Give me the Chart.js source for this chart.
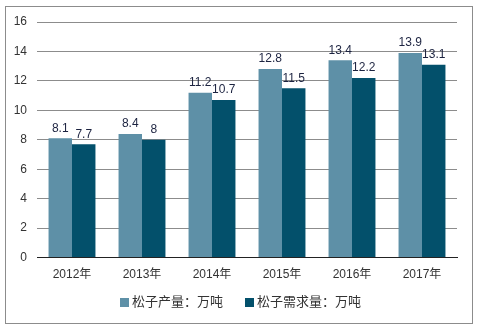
<!DOCTYPE html>
<html>
<head>
<meta charset="utf-8">
<script src="https://cdn.jsdelivr.net/npm/chart.js@4"></script>
<style>
  body { margin: 0; background: #fff; }
  #wrap { position: relative; width: 480px; height: 329px; font-family: 'Liberation Sans', Arial, 'Noto Sans CJK SC', sans-serif; }
  #frame { position: absolute; left: 5px; top: 6px; width: 466px; height: 316px; border: 1px solid #8c8c8c; }
  canvas { position: absolute; left: 0; top: 0; }
  #legend { position: absolute; left: 0; width: 480px; top: 293px; height: 18px; font-size: 13px; color: #333; line-height: 18px; }
  .item { position: absolute; top: 0; white-space: nowrap; }
  .box { display: inline-block; width: 9px; height: 9px; margin-right: 3px; vertical-align: -1px; }
</style>
</head>
<body>
<div id="wrap">
  <div id="frame"></div>
  <canvas id="chart" width="480" height="329"></canvas>
  <div id="legend"></div>
</div>
<script>
const years = ['2012年', '2013年', '2014年', '2015年', '2016年', '2017年'];
const output = [8.1, 8.4, 11.2, 12.8, 13.4, 13.9];
const demand = [7.7, 8, 10.7, 11.5, 12.2, 13.1];
const seriesNames = ['松子产量：万吨', '松子需求量：万吨'];
const colors = ['#5e90a7', '#03506b'];

const font = "'Liberation Sans', Arial, 'Noto Sans CJK SC', sans-serif";

// value labels above each bar
const barLabels = {
    id: 'barLabels',
    afterDatasetsDraw(chart){
        const ctx = chart.ctx;
        ctx.save();
        ctx.font = '12px ' + font;
        ctx.fillStyle = '#1c2340';
        ctx.textAlign = 'center';
        ctx.textBaseline = 'bottom';
        chart.data.datasets.forEach((ds, i) => {
            chart.getDatasetMeta(i).data.forEach((bar, j) => {
                ctx.fillText(String(ds.data[j]), bar.x, bar.y - 4);
            });
        });
        ctx.restore();
    }
};

const chart = new Chart(document.getElementById('chart').getContext('2d'), {
    type: 'bar',
    data: {
        labels: years,
        datasets: [
            { label: seriesNames[0], data: output, backgroundColor: colors[0] },
            { label: seriesNames[1], data: demand, backgroundColor: colors[1] }
        ]
    },
    options: {
        responsive: false,
        animation: false,
        layout: { padding: { left: 0, right: 23, top: 22, bottom: 45 } },
        datasets: { bar: { categoryPercentage: 0.67, barPercentage: 1 } },
        plugins: {
            legend: { display: false },
            tooltip: { enabled: false }
        },
        scales: {
            x: {
                grid: { display: false },
                border: { color: '#222', width: 1 },
                ticks: { color: '#333', font: { size: 12, family: font }, padding: 2 }
            },
            y: {
                min: 0, max: 16,
                ticks: { stepSize: 2, color: '#333', font: { size: 12, family: font }, padding: 10 },
                grid: { color: '#8c8c8c', drawTicks: false },
                border: { display: false },
                afterFit(scale){ scale.width = 37; }
            }
        }
    },
    plugins: [barLabels]
});

// legend below the axis
const legendPos = [120, 245];
let html = '';
chart.data.datasets.forEach((ds, i) => {
    html += `<span class="item" style="left:${legendPos[i]}px"><span class="box" style="background:${ds.backgroundColor}"></span>${ds.label}</span>`;
});
document.getElementById('legend').innerHTML = html;
</script>
</body>
</html>
